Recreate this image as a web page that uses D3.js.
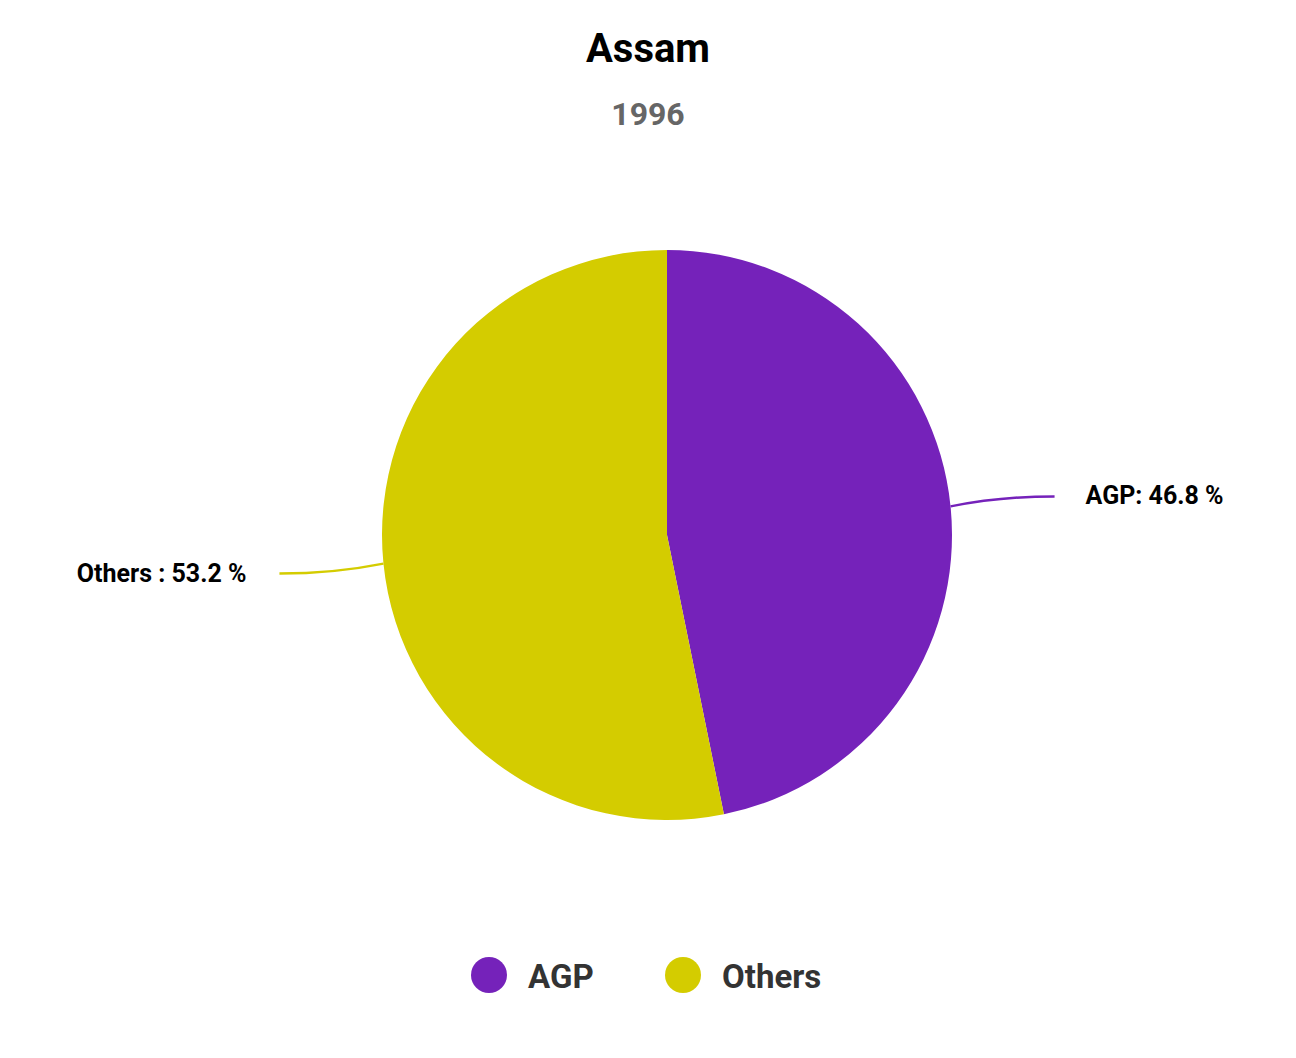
<!DOCTYPE html>
<html><head><meta charset="utf-8">
<script src="https://cdn.jsdelivr.net/npm/d3@7"></script>
<style>body{margin:0;background:#fff}</style></head>
<body><svg id="c" width="1296" height="1058"></svg>
<script>
const categories = ["AGP", "Others"];
const values = [46.8, 53.2];
const labels = ["AGP: 46.8 %", "Others : 53.2 %"];
const colors = ["#7522BA", "#D4CC00"];

const svg = d3.select("#c");
const font = "Roboto, sans-serif";
const cx = 667, cy = 535, r = 285;
svg.append("text").attr("x", 648).attr("y", 62).attr("text-anchor", "middle")
  .attr("font-family", font).attr("font-weight", "bold").attr("font-size", 40).attr("fill", "#000").text("Assam");
svg.append("text").attr("x", 648).attr("y", 125).attr("text-anchor", "middle")
  .attr("font-family", font).attr("font-weight", "bold").attr("font-size", 32).attr("fill", "#666").text("1996");

const pie = d3.pie().sort(null).value(d => d)(values);
const arc = d3.arc().innerRadius(0).outerRadius(r);
const g = svg.append("g").attr("transform", `translate(${cx},${cy})`);
g.selectAll("path").data(pie).join("path").attr("d", arc).attr("fill", (d, i) => colors[i]);

pie.forEach((d, i) => {
  const mid = (d.startAngle + d.endAngle) / 2;
  const x0 = Math.sin(mid) * r, y0 = -Math.cos(mid) * r;
  const dir = x0 > 0 ? 1 : -1;
  const x1 = x0 + dir * 105, y1 = y0 - 10 * (dir > 0 ? 1 : -1) * 1;
  const yEnd = dir > 0 ? y0 - 10 : y0 + 10;
  g.append("path").attr("d", `M${x0},${y0} Q${x0 + dir * 50},${yEnd} ${x0 + dir * 104},${yEnd}`)
    .attr("fill", "none").attr("stroke", colors[i]).attr("stroke-width", 2.5);
  g.append("text").attr("x", x0 + dir * (dir > 0 ? 135 : 137)).attr("y", yEnd + 8)
    .attr("text-anchor", dir > 0 ? "start" : "end")
    .attr("font-family", font).attr("font-weight", "bold").attr("font-size", 25).attr("fill", "#000").text(labels[i]);
});

const lx = [489, 683];
categories.forEach((c, i) => {
  svg.append("circle").attr("cx", lx[i]).attr("cy", 975).attr("r", 18).attr("fill", colors[i]);
  svg.append("text").attr("x", lx[i] + 39).attr("y", 988).attr("font-family", font).attr("font-weight", "bold")
    .attr("font-size", 33).attr("fill", "#333").text(c);
});
</script></body></html>
